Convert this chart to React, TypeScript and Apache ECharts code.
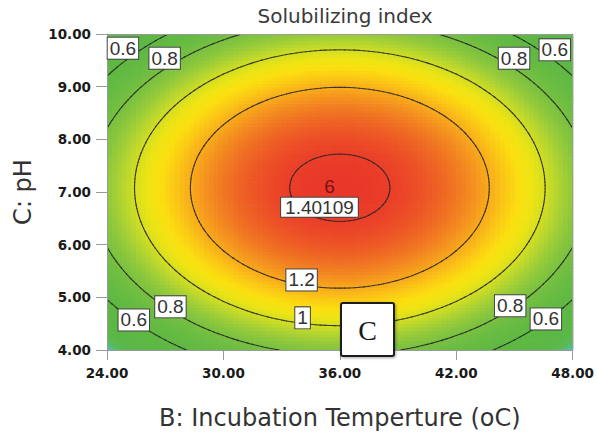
import { useEffect, useRef } from "react";
import * as echarts from "echarts";

// Factor axes (actual units) and their tick marks
const tempTicks = [24, 30, 36, 42, 48]; // B: Incubation Temperture (oC)
const phTicks = [4, 5, 6, 7, 8, 9, 10]; // C: pH

// Fitted quadratic model in coded factors (B, C in -1..+1)
const INTERCEPT = 1.425;
const COEF_B = 0;
const COEF_C = 0.03;
const COEF_B2 = -0.547;
const COEF_C2 = -0.558;

// Contour levels drawn on the surface
const contourLevels = [0.6, 0.8, 1, 1.2, 1.4];

// Labelled contours: [temperature, pH, level]
const contourLabels: [number, number, number][] = [
  [24.82, 9.73, 0.6],
  [26.97, 9.54, 0.8],
  [44.98, 9.54, 0.8],
  [47.08, 9.7, 0.6],
  [25.38, 4.57, 0.6],
  [27.27, 4.82, 0.8],
  [44.78, 4.84, 0.8],
  [46.62, 4.59, 0.6],
  [34.03, 5.33, 1.2],
  [34.08, 4.61, 1],
];

// Centre design point and its replicate count
const designPoint = [36, 7];
const designReplicates = 6;

// Flagged prediction
const flagPoint = [34.95, 6.51];
const flagValue = "1.40109";

// Colour ramp for the response (low -> high)
const responseRange = [0.25, 1.45];
const responseColors = [
  "#3ab4e8", "#50c0c4", "#5aba5c", "#5ab84a", "#5bb746", "#5cb745",
  "#5db844", "#5fb843", "#62b943", "#67bb42", "#6ebd42", "#78c041",
  "#86c53e", "#9acc39", "#b5d530", "#d3de22", "#eee414", "#fbdf10",
  "#fbc816", "#f8ab1c", "#f48e20", "#f07123", "#ed5626", "#ea3e29",
  "#e8302a",
];

const tMin = tempTicks[0];
const tMax = tempTicks[tempTicks.length - 1];
const pMin = phTicks[0];
const pMax = phTicks[phTicks.length - 1];
const tMid = (tMin + tMax) / 2;
const pMid = (pMin + pMax) / 2;
const tHalf = (tMax - tMin) / 2;
const pHalf = (pMax - pMin) / 2;

function predict(t: number, p: number) {
  const B = (t - tMid) / tHalf;
  const C = (p - pMid) / pHalf;
  return INTERCEPT + COEF_B * B + COEF_C * C + COEF_B2 * B * B + COEF_C2 * C * C;
}

const NT = 96;
const NP = 96;
const dT = (tMax - tMin) / NT;
const dP = (pMax - pMin) / NP;

function buildCells() {
  const cells: number[][] = [];
  for (let i = 0; i < NT; i++) {
    for (let j = 0; j < NP; j++) {
      const t = tMin + (i + 0.5) * dT;
      const p = pMin + (j + 0.5) * dP;
      cells.push([t, p, predict(t, p)]);
    }
  }
  return cells;
}

// Marching squares over the model grid, one segment per crossed cell
function buildContours() {
  const g: number[][] = [];
  for (let i = 0; i <= NT; i++) {
    const col: number[] = [];
    for (let j = 0; j <= NP; j++) col.push(predict(tMin + i * dT, pMin + j * dP));
    g.push(col);
  }
  const segs: number[][] = [];
  for (const level of contourLevels) {
    const cross = (a: number, b: number) => a >= level !== b >= level;
    for (let i = 0; i < NT; i++) {
      for (let j = 0; j < NP; j++) {
        const x0 = tMin + i * dT;
        const x1 = x0 + dT;
        const y0 = pMin + j * dP;
        const y1 = y0 + dP;
        const v00 = g[i][j];
        const v10 = g[i + 1][j];
        const v11 = g[i + 1][j + 1];
        const v01 = g[i][j + 1];
        const pts: number[][] = [];
        if (cross(v00, v10)) pts.push([x0 + (dT * (level - v00)) / (v10 - v00), y0]);
        if (cross(v10, v11)) pts.push([x1, y0 + (dP * (level - v10)) / (v11 - v10)]);
        if (cross(v01, v11)) pts.push([x0 + (dT * (level - v01)) / (v11 - v01), y1]);
        if (cross(v00, v01)) pts.push([x0, y0 + (dP * (level - v00)) / (v01 - v00)]);
        if (pts.length >= 2) segs.push([pts[0][0], pts[0][1], pts[1][0], pts[1][1]]);
        if (pts.length === 4) segs.push([pts[2][0], pts[2][1], pts[3][0], pts[3][1]]);
      }
    }
  }
  return segs;
}

const tickFont = {
  fontFamily: "DejaVu Sans",
  fontWeight: "bold" as const,
  fontSize: 13.5,
  color: "#1a1a1a",
};
const nameFont = { fontFamily: "DejaVu Sans", fontSize: 24, color: "#333" };
const boxLabel = {
  show: true,
  position: "inside" as const,
  fontFamily: "Liberation Sans",
  fontSize: 19,
  lineHeight: 20,
  color: "#333",
  opacity: 1,
  backgroundColor: "#fff",
  borderColor: "#444",
  borderWidth: 1,
  padding: [1, 2, 0, 2],
};
const frameLine = { show: true, onZero: false, lineStyle: { color: "#9a9a9a", width: 1 } };

export default function App() {
  const ref = useRef<HTMLDivElement>(null);

  useEffect(() => {
    document.body.style.margin = "0";
    if (!ref.current) return;
    const chart = echarts.init(ref.current, null, { renderer: "svg" });
    const cells = buildCells();
    const segs = buildContours();

    chart.setOption({
      animation: false,
      title: {
        text: "Solubilizing index",
        left: 345,
        top: 6,
        padding: 0,
        textAlign: "center",
        textStyle: { fontFamily: "DejaVu Sans", fontSize: 20, fontWeight: "normal", color: "#3a3a3a" },
      },
      grid: { left: 107, top: 34, right: 21, bottom: 88 },
      xAxis: [
        {
          type: "value",
          min: tMin,
          max: tMax,
          interval: tempTicks[1] - tempTicks[0],
          position: "bottom",
          z: 5,
          axisLine: frameLine,
          axisTick: { show: true, length: 10, lineStyle: { color: "#9a9a9a" } },
          axisLabel: { ...tickFont, margin: 16, formatter: (v: number) => v.toFixed(2) },
          splitLine: { show: false },
          name: "B: Incubation Temperture (oC)",
          nameLocation: "middle",
          nameGap: 56,
          nameTextStyle: nameFont,
        },
        {
          type: "value",
          min: tMin,
          max: tMax,
          position: "top",
          z: 5,
          axisLine: frameLine,
          axisTick: { show: false },
          axisLabel: { show: false },
          splitLine: { show: false },
        },
      ],
      yAxis: [
        {
          type: "value",
          min: pMin,
          max: pMax,
          interval: phTicks[1] - phTicks[0],
          position: "left",
          z: 5,
          axisLine: frameLine,
          axisTick: { show: true, length: 11, lineStyle: { color: "#9a9a9a" } },
          axisLabel: { ...tickFont, margin: 16, formatter: (v: number) => v.toFixed(2) },
          splitLine: { show: false },
          name: "C: pH",
          nameLocation: "middle",
          nameGap: 72,
          nameTextStyle: nameFont,
        },
        {
          type: "value",
          min: pMin,
          max: pMax,
          position: "right",
          z: 5,
          axisLine: frameLine,
          axisTick: { show: false },
          axisLabel: { show: false },
          splitLine: { show: false },
        },
      ],
      visualMap: {
        show: false,
        type: "continuous",
        min: responseRange[0],
        max: responseRange[1],
        dimension: 2,
        seriesIndex: 0,
        inRange: { color: responseColors },
      },
      series: [
        {
          type: "custom",
          xAxisIndex: 0,
          yAxisIndex: 0,
          clip: true,
          silent: true,
          data: cells,
          encode: { x: 0, y: 1 },
          renderItem: (_params: any, api: any) => {
            const t = api.value(0);
            const p = api.value(1);
            const a = api.coord([t - dT / 2, p + dP / 2]);
            const b = api.coord([t + dT / 2, p - dP / 2]);
            return {
              type: "rect",
              shape: { x: a[0], y: a[1], width: b[0] - a[0] + 0.7, height: b[1] - a[1] + 0.7 },
              style: { fill: api.visual("color") },
            };
          },
        },
        {
          type: "custom",
          xAxisIndex: 0,
          yAxisIndex: 0,
          clip: true,
          silent: true,
          z: 3,
          data: segs,
          encode: { x: [0, 2], y: [1, 3] },
          renderItem: (_params: any, api: any) => {
            const a = api.coord([api.value(0), api.value(1)]);
            const b = api.coord([api.value(2), api.value(3)]);
            return {
              type: "line",
              shape: { x1: a[0], y1: a[1], x2: b[0], y2: b[1] },
              style: { stroke: "#262626", lineWidth: 1.1, opacity: 0.85, lineCap: "round" },
            };
          },
        },
        {
          type: "scatter",
          xAxisIndex: 0,
          yAxisIndex: 0,
          z: 6,
          silent: true,
          symbolSize: 0,
          itemStyle: { opacity: 1 },
          data: contourLabels,
          label: { ...boxLabel, formatter: (p: any) => String(p.value[2]) },
        },
        {
          type: "scatter",
          xAxisIndex: 0,
          yAxisIndex: 0,
          z: 6,
          silent: true,
          symbolSize: 0,
          itemStyle: { opacity: 1 },
          data: [
            {
              value: designPoint,
              label: {
                show: true,
                position: "left",
                distance: 5,
                offset: [0, -6],
                formatter: String(designReplicates),
                fontFamily: "Liberation Sans",
                fontSize: 19,
                opacity: 1,
                color: "#7b1214",
              },
            },
            {
              value: flagPoint,
              label: {
                ...boxLabel,
                position: "top",
                distance: 1,
                padding: [0, 4, 0, 4],
                lineHeight: 19,
                formatter: flagValue,
              },
            },
          ],
        },
      ],
      graphic: [
        {
          type: "group",
          left: 340,
          top: 302,
          z: 100,
          children: [
            {
              type: "rect",
              z: 100,
              shape: { x: 0, y: 0, width: 53, height: 53, r: 2 },
              style: {
                fill: "#fff",
                stroke: "#1e1e1e",
                lineWidth: 2,
                shadowBlur: 3,
                shadowColor: "rgba(0,0,0,0.35)",
                shadowOffsetX: 1,
                shadowOffsetY: 1,
              },
            },
            {
              type: "text",
              z: 101,
              x: 26.5,
              y: 27,
              style: {
                text: "C",
                fontFamily: "Liberation Serif",
                fontSize: 28,
                fill: "#1a1a1a",
                align: "center",
                verticalAlign: "middle",
              },
            },
          ],
        },
      ],
    });

    return () => chart.dispose();
  }, []);

  return <div ref={ref} style={{ width: 597, height: 438 }} />;
}
